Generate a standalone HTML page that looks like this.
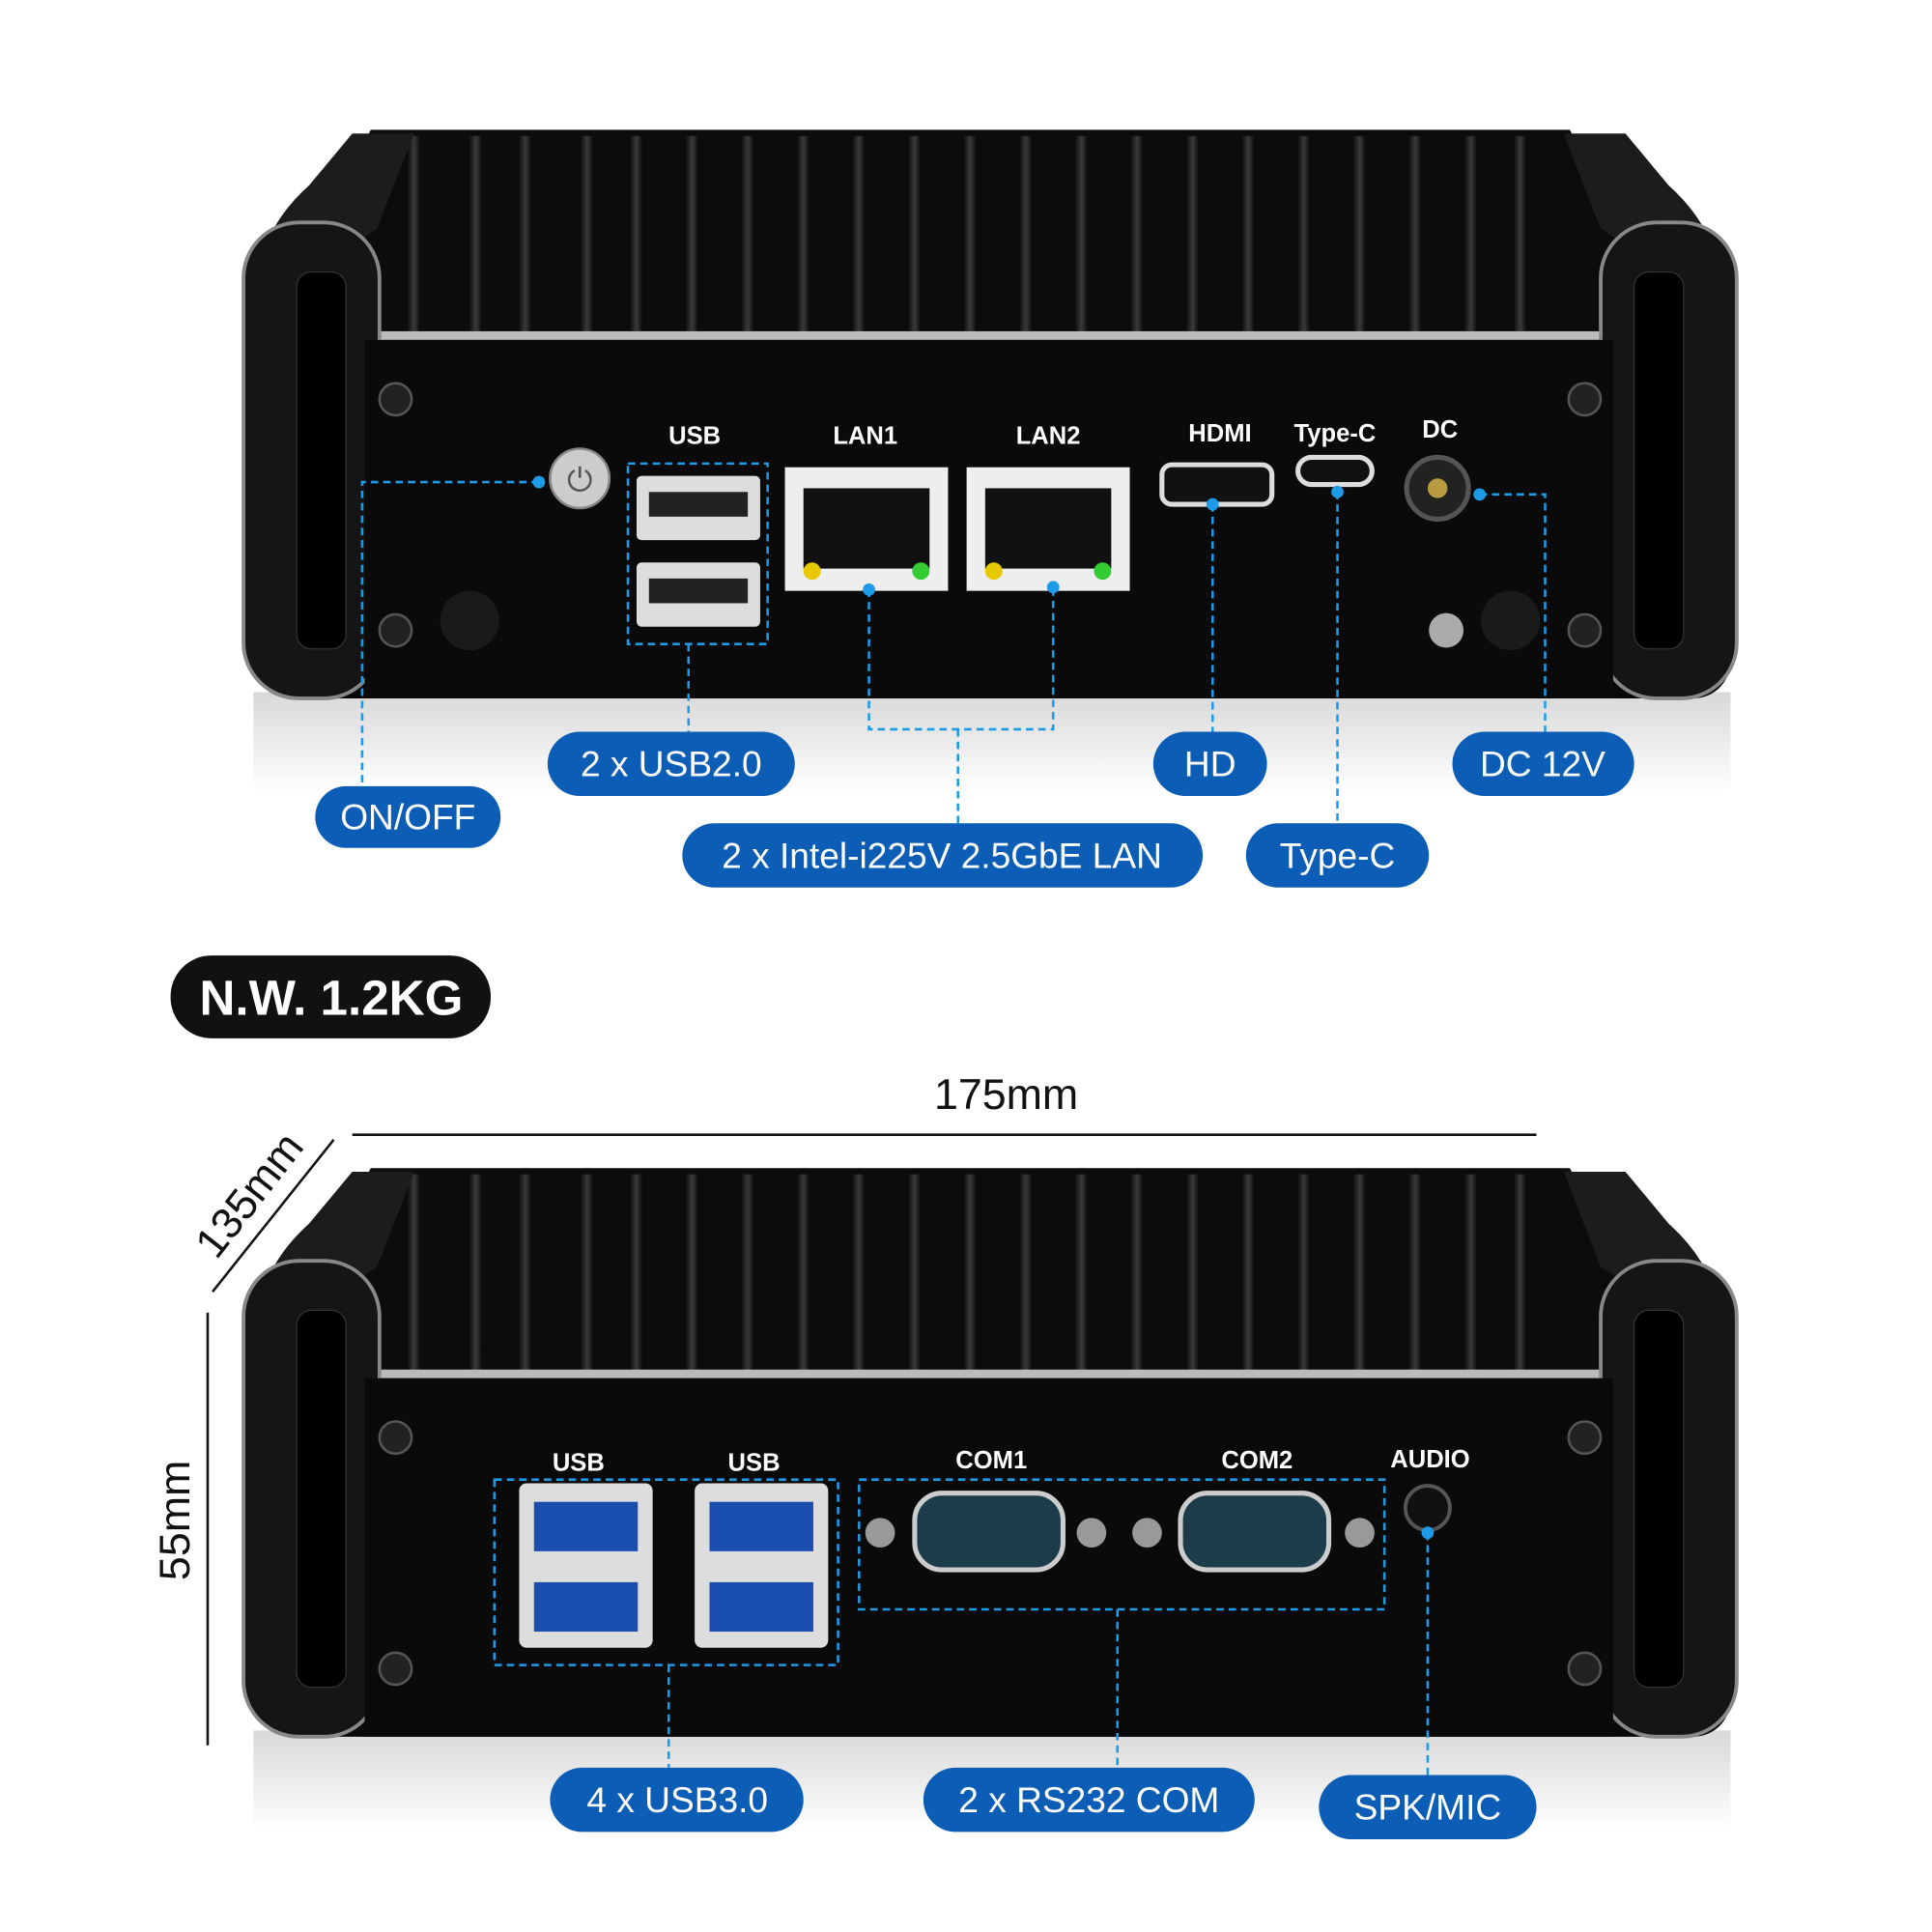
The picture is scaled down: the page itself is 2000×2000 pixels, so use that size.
<!DOCTYPE html>
<html><head><meta charset="utf-8"><style>
html,body{margin:0;padding:0;background:#fff;}
svg{display:block}
text{font-family:"Liberation Sans",sans-serif;}
</style></head><body>
<svg width="2000" height="2000" viewBox="0 0 1563 1563" xmlns="http://www.w3.org/2000/svg">
<defs>
<linearGradient id="refl" x1="0" y1="0" x2="0" y2="1">
<stop offset="0" stop-color="#d8d8d8"/><stop offset="1" stop-color="#ffffff"/></linearGradient>
<linearGradient id="fin" x1="0" y1="0" x2="1" y2="0">
<stop offset="0" stop-color="#111"/><stop offset="0.5" stop-color="#3a3a3a"/><stop offset="1" stop-color="#0a0a0a"/></linearGradient>
<g id="dev">
  <rect x="205" y="560" width="1195" height="80" fill="url(#refl)"/>
  <path d="M250 200 L300 105 L1270 105 L1320 200 L1320 280 L250 280Z" fill="#0c0c0c"/>
  <g fill="url(#fin)">
    <rect x="330" y="110" width="10" height="170"/><rect x="380" y="110" width="10" height="170"/>
    <rect x="420" y="110" width="10" height="170"/><rect x="470" y="110" width="10" height="170"/>
    <rect x="510" y="110" width="10" height="170"/><rect x="555" y="110" width="10" height="170"/>
    <rect x="600" y="110" width="10" height="170"/><rect x="645" y="110" width="10" height="170"/>
    <rect x="690" y="110" width="10" height="170"/><rect x="735" y="110" width="10" height="170"/>
    <rect x="780" y="110" width="10" height="170"/><rect x="825" y="110" width="10" height="170"/>
    <rect x="870" y="110" width="10" height="170"/><rect x="915" y="110" width="10" height="170"/>
    <rect x="960" y="110" width="10" height="170"/><rect x="1005" y="110" width="10" height="170"/>
    <rect x="1050" y="110" width="10" height="170"/><rect x="1095" y="110" width="10" height="170"/>
    <rect x="1140" y="110" width="10" height="170"/><rect x="1185" y="110" width="10" height="170"/>
    <rect x="1225" y="110" width="10" height="170"/>
  </g>
  <path d="M205 250 Q205 190 250 150 L285 108 L335 108 L305 185 Z" fill="#1c1c1c"/>
  <path d="M1395 250 Q1395 190 1350 150 L1315 108 L1265 108 L1295 185 Z" fill="#1c1c1c"/>
  <rect x="300" y="268" width="1005" height="10" fill="#bbb"/>
  <rect x="205" y="275" width="1195" height="290" rx="30" fill="#080808"/>
  <rect x="197" y="180" width="110" height="385" rx="45" fill="#151515" stroke="#888" stroke-width="3"/>
  <rect x="1295" y="180" width="110" height="385" rx="45" fill="#151515" stroke="#888" stroke-width="3"/>
  <rect x="240" y="220" width="40" height="305" rx="12" fill="#000" stroke="#333"/>
  <rect x="1322" y="220" width="40" height="305" rx="12" fill="#000" stroke="#333"/>
  <rect x="295" y="275" width="1010" height="290" fill="#0a0a0a"/>
  <g fill="#222" stroke="#555" stroke-width="2">
    <circle cx="320" cy="323" r="13"/><circle cx="320" cy="510" r="13"/>
    <circle cx="1282" cy="323" r="13"/><circle cx="1282" cy="510" r="13"/>
  </g>
</g>
</defs>

<use href="#dev"/>
<use href="#dev" transform="translate(0,840)"/>

<g font-weight="bold" fill="#fff" font-size="20" text-anchor="middle">
<text x="562" y="359">USB</text><text x="700" y="359">LAN1</text><text x="848" y="359">LAN2</text>
<text x="987" y="357">HDMI</text><text x="1080" y="357">Type-C</text><text x="1165" y="354">DC</text>
</g>
<circle cx="469" cy="387" r="24" fill="#ccc" stroke="#888" stroke-width="2"/>
<text x="469" y="397" font-size="26" text-anchor="middle" fill="#555">⏻</text>
<circle cx="380" cy="502" r="24" fill="#1a1a1a"/>
<circle cx="1222" cy="502" r="24" fill="#1a1a1a"/>
<circle cx="1170" cy="510" r="14" fill="#aaa"/>
<rect x="515" y="385" width="100" height="52" rx="4" fill="#ddd"/><rect x="525" y="398" width="80" height="20" fill="#222"/>
<rect x="515" y="455" width="100" height="52" rx="4" fill="#ddd"/><rect x="525" y="468" width="80" height="20" fill="#222"/>
<rect x="635" y="378" width="132" height="100" fill="#eee"/><rect x="650" y="395" width="102" height="65" fill="#111"/>
<circle cx="657" cy="462" r="7" fill="#e8c800"/><circle cx="745" cy="462" r="7" fill="#3c3"/>
<rect x="782" y="378" width="132" height="100" fill="#eee"/><rect x="797" y="395" width="102" height="65" fill="#111"/>
<circle cx="804" cy="462" r="7" fill="#e8c800"/><circle cx="892" cy="462" r="7" fill="#3c3"/>
<rect x="940" y="376" width="89" height="32" rx="8" fill="#111" stroke="#ddd" stroke-width="4"/>
<rect x="1050" y="370" width="60" height="22" rx="11" fill="#111" stroke="#ddd" stroke-width="4"/>
<circle cx="1163" cy="395" r="25" fill="#222" stroke="#555" stroke-width="4"/><circle cx="1163" cy="395" r="8" fill="#b89a40"/>

<g stroke="#1e9be6" stroke-width="2" stroke-dasharray="6,4" fill="none">
<path d="M436 390 H293 V636"/>
<rect x="508" y="375" width="113" height="146"/>
<path d="M557 521 V592"/>
<path d="M703 477 V590 H852 V475"/><path d="M775 590 V666"/>
<path d="M981 408 V592"/><path d="M1082 398 V666"/>
<path d="M1197 400 H1250 V592"/>
</g>
<g fill="#1e9be6"><circle cx="436" cy="390" r="5"/><circle cx="703" cy="477" r="5"/><circle cx="852" cy="475" r="5"/>
<circle cx="981" cy="408" r="5"/><circle cx="1082" cy="398" r="5"/><circle cx="1197" cy="400" r="5"/></g>

<g fill="#0c5db5">
<rect x="255" y="636" width="150" height="50" rx="25"/>
<rect x="443" y="592" width="200" height="52" rx="26"/>
<rect x="552" y="666" width="421" height="52" rx="26"/>
<rect x="933" y="592" width="92" height="52" rx="26"/>
<rect x="1008" y="666" width="148" height="52" rx="26"/>
<rect x="1175" y="592" width="147" height="52" rx="26"/>
<rect x="445" y="1430" width="205" height="52" rx="26"/>
<rect x="747" y="1430" width="268" height="52" rx="26"/>
<rect x="1067" y="1436" width="176" height="52" rx="26"/>
</g>
<g fill="#fff" font-size="29" text-anchor="middle">
<text x="330" y="671">ON/OFF</text>
<text x="543" y="628">2 x USB2.0</text>
<text x="762" y="702">2 x Intel-i225V 2.5GbE LAN</text>
<text x="979" y="628">HD</text>
<text x="1082" y="702">Type-C</text>
<text x="1248" y="628">DC 12V</text>
<text x="548" y="1466">4 x USB3.0</text>
<text x="881" y="1466">2 x RS232 COM</text>
<text x="1155" y="1472">SPK/MIC</text>
</g>

<rect x="138" y="773" width="259" height="67" rx="33" fill="#111"/>
<text x="268" y="821" fill="#fff" font-size="40" font-weight="bold" text-anchor="middle">N.W. 1.2KG</text>

<text x="814" y="897" font-size="35" text-anchor="middle" fill="#111">175mm</text>
<line x1="285" y1="918" x2="1243" y2="918" stroke="#111" stroke-width="2"/>
<line x1="270" y1="922" x2="172" y2="1045" stroke="#111" stroke-width="2"/>
<text transform="translate(211,974) rotate(-52)" font-size="35" text-anchor="middle" fill="#111">135mm</text>
<line x1="168" y1="1062" x2="168" y2="1412" stroke="#111" stroke-width="2"/>
<text transform="translate(153,1230) rotate(-90)" font-size="35" text-anchor="middle" fill="#111">55mm</text>

<g font-weight="bold" fill="#fff" font-size="20" text-anchor="middle">
<text x="468" y="1190">USB</text><text x="610" y="1190">USB</text>
<text x="802" y="1188">COM1</text><text x="1017" y="1188">COM2</text><text x="1157" y="1187">AUDIO</text>
</g>
<g>
<rect x="420" y="1200" width="108" height="133" rx="6" fill="#ddd"/>
<rect x="432" y="1215" width="84" height="40" fill="#1a4fb0"/><rect x="432" y="1280" width="84" height="40" fill="#1a4fb0"/>
<rect x="562" y="1200" width="108" height="133" rx="6" fill="#ddd"/>
<rect x="574" y="1215" width="84" height="40" fill="#1a4fb0"/><rect x="574" y="1280" width="84" height="40" fill="#1a4fb0"/>
<rect x="740" y="1208" width="120" height="62" rx="22" fill="#1d3c4a" stroke="#ccc" stroke-width="4"/>
<rect x="955" y="1208" width="120" height="62" rx="22" fill="#1d3c4a" stroke="#ccc" stroke-width="4"/>
<circle cx="712" cy="1240" r="12" fill="#999"/><circle cx="883" cy="1240" r="12" fill="#999"/>
<circle cx="928" cy="1240" r="12" fill="#999"/><circle cx="1100" cy="1240" r="12" fill="#999"/>
<circle cx="1155" cy="1220" r="18" fill="#111" stroke="#555" stroke-width="3"/>
</g>
<g stroke="#1e9be6" stroke-width="2" stroke-dasharray="6,4" fill="none">
<rect x="400" y="1197" width="278" height="150"/><path d="M541 1347 V1430"/>
<rect x="695" y="1197" width="425" height="105"/><path d="M904 1302 V1430"/>
<path d="M1155 1240 V1436"/>
</g>
<circle cx="1155" cy="1240" r="5" fill="#1e9be6"/>
</svg>
</body></html>
